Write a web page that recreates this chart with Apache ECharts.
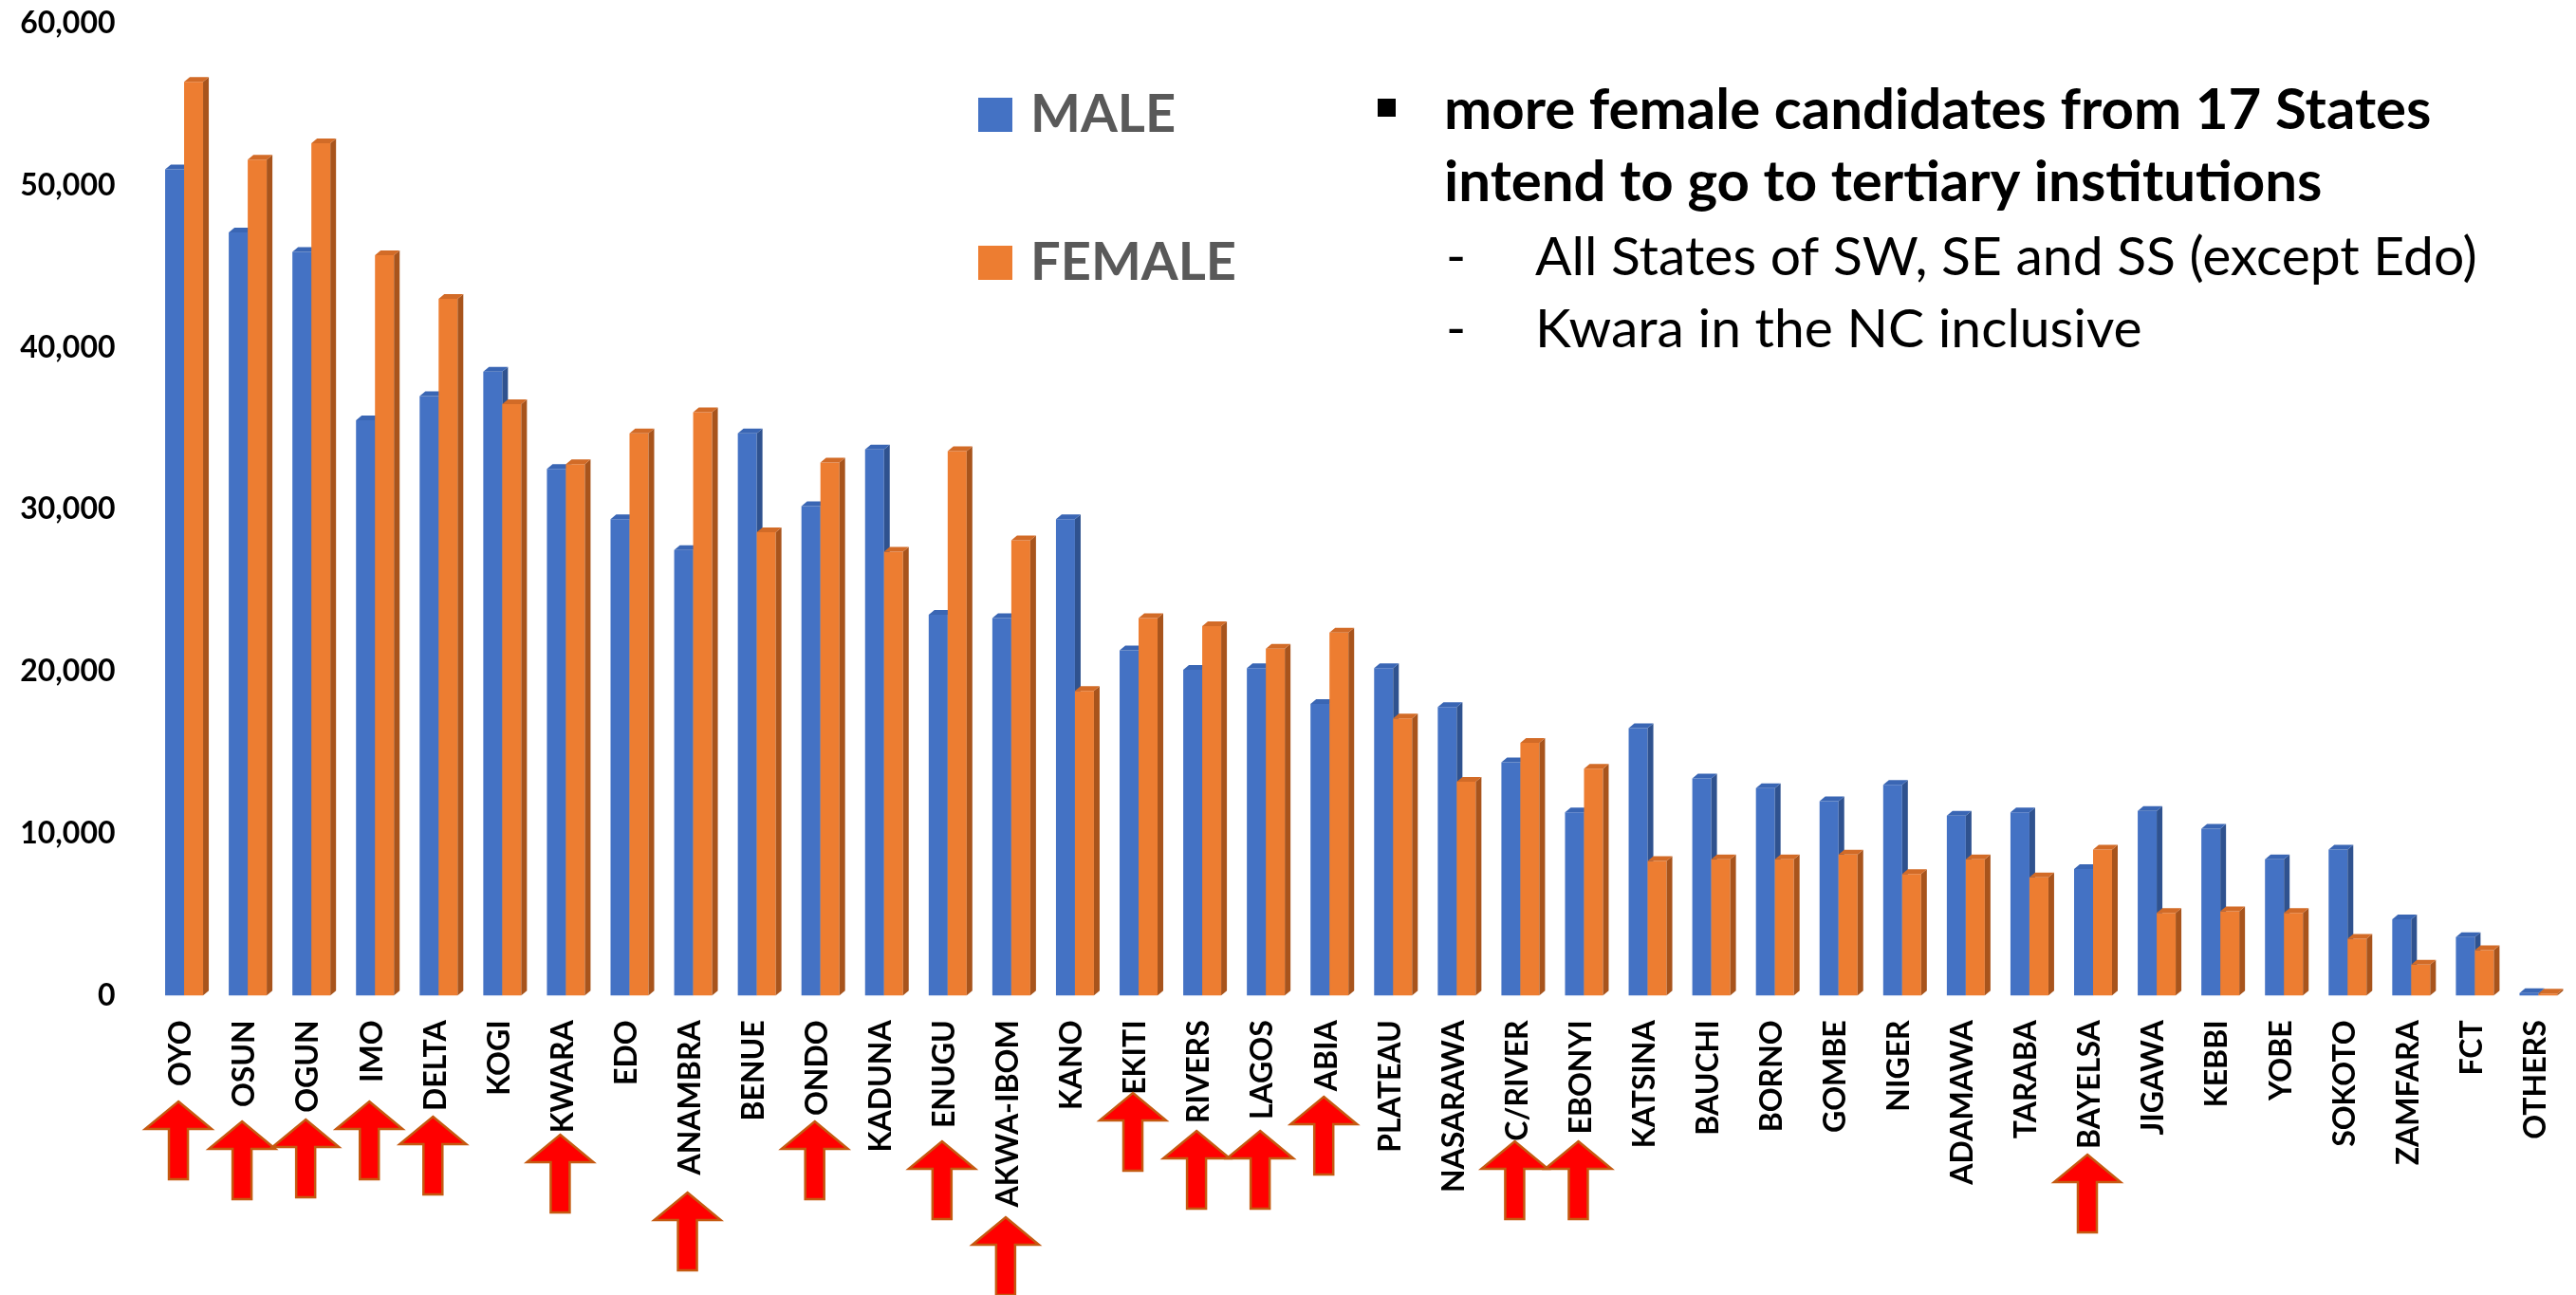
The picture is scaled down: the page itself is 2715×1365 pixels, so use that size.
<!DOCTYPE html>
<html>
<head>
<meta charset="utf-8">
<title>Candidates by State and Gender</title>
<script src="https://cdn.jsdelivr.net/npm/echarts@6/dist/echarts.min.js"></script>
<style>
  html, body { margin: 0; padding: 0; background: #fff; }
  #chart { width: 2715px; height: 1365px; }
</style>
</head>
<body>
<div id="chart"></div>
<script>
// data
var states = ['OYO', 'OSUN', 'OGUN', 'IMO', 'DELTA', 'KOGI', 'KWARA', 'EDO', 'ANAMBRA', 'BENUE',
  'ONDO', 'KADUNA', 'ENUGU', 'AKWA-IBOM', 'KANO', 'EKITI', 'RIVERS', 'LAGOS', 'ABIA', 'PLATEAU',
  'NASARAWA', 'C/RIVER', 'EBONYI', 'KATSINA', 'BAUCHI', 'BORNO', 'GOMBE', 'NIGER', 'ADAMAWA', 'TARABA',
  'BAYELSA', 'JIGAWA', 'KEBBI', 'YOBE', 'SOKOTO', 'ZAMFARA', 'FCT', 'OTHERS'];
var maleValues = [51000, 47100, 45900, 35500, 37000, 38500, 32500, 29400, 27500, 34700,
  30200, 33700, 23500, 23300, 29400, 21300, 20100, 20200, 18000, 20200,
  17800, 14400, 11300, 16500, 13400, 12800, 12000, 13000, 11100, 11300,
  7800, 11400, 10300, 8400, 9000, 4700, 3600, 150];
var femaleValues = [56400, 51600, 52600, 45700, 43000, 36500, 32800, 34700, 36000, 28600,
  32900, 27400, 33600, 28100, 18800, 23300, 22800, 21400, 22400, 17100,
  13200, 15600, 14000, 8300, 8400, 8400, 8700, 7500, 8400, 7300,
  9000, 5100, 5200, 5100, 3500, 1900, 2800, 120];
var yMax = 60000;
var yStep = 10000;

// states flagged with a red arrow (female > male, Edo left out on the slide)
var arrowStates = ['OYO', 'OSUN', 'OGUN', 'IMO', 'DELTA', 'KWARA', 'ANAMBRA', 'ONDO', 'ENUGU',
  'AKWA-IBOM', 'EKITI', 'RIVERS', 'LAGOS', 'ABIA', 'C/RIVER', 'EBONYI', 'BAYELSA'];
// where each arrow tip sits (page px), same order as arrowStates
var arrowTops = [1161, 1182, 1180, 1161, 1177, 1196, 1257, 1182, 1203,
  1283, 1152, 1192, 1192, 1156, 1203, 1203, 1217];

var headLine = ['more female candidates from 17 States', 'intend to go to tertiary institutions'];
var subLines = ['All States of SW, SE and SS (except Edo)', 'Kwara in the NC inclusive'];

var font = 'Lato';

function bar3d(offsetX, barW, colors) {
  return function (params, api) {
    var base = api.coord([api.value(0), 0]);
    var top = api.coord([api.value(0), api.value(1)]);
    var x0 = base[0] + offsetX;
    var x1 = x0 + barW;
    var yT = top[1];
    var yB = base[1];
    var dx = 6, dy = 5;
    return {
      type: 'group',
      children: [
        { type: 'rect', shape: { x: x0, y: yT, width: barW, height: yB - yT }, style: { fill: colors.front } },
        { type: 'polygon', shape: { points: [[x1, yT], [x1 + dx, yT - dy], [x1 + dx, yB - dy], [x1, yB]] }, style: { fill: colors.side } },
        { type: 'polygon', shape: { points: [[x0, yT], [x0 + dx, yT - dy], [x1 + dx, yT - dy], [x1, yT]] }, style: { fill: colors.top } }
      ]
    };
  };
}

var maleColors = { front: '#4472C4', side: '#2F528F', top: '#3A66B4' };
var femaleColors = { front: '#ED7D31', side: '#A8541C', top: '#D26B27' };

var chart = echarts.init(document.getElementById('chart'));

var option = {
  backgroundColor: '#fff',
  animation: false,
  grid: { left: 157.5, right: 9, top: 24.7, bottom: 315.7 },
  legend: {
    orient: 'vertical',
    left: 1031,
    top: 93,
    padding: 0,
    icon: 'rect',
    itemWidth: 36,
    itemHeight: 36,
    itemGap: 100,
    data: ['MALE', 'FEMALE'],
    textStyle: {
      fontFamily: font,
      fontWeight: 'bold',
      fontSize: 56,
      color: '#595959',
      padding: [0, 0, 0, 14]
    }
  },
  xAxis: {
    type: 'category',
    data: states,
    axisLine: { show: false },
    axisTick: { show: false },
    axisLabel: {
      interval: 0,
      rotate: 90,
      margin: 26,
      fontFamily: font,
      fontWeight: 'bold',
      fontSize: 32,
      color: '#000'
    }
  },
  yAxis: {
    type: 'value',
    min: 0,
    max: yMax,
    interval: yStep,
    axisLine: { show: false },
    axisTick: { show: false },
    splitLine: { show: false },
    axisLabel: {
      margin: 36,
      fontFamily: font,
      fontWeight: 'bold',
      fontSize: 32,
      color: '#000',
      formatter: function (v) { return v.toLocaleString('en-US'); }
    }
  },
  series: [
    {
      name: 'MALE',
      type: 'custom',
      itemStyle: { color: maleColors.front },
      renderItem: bar3d(-17, 20, maleColors),
      encode: { x: 0, y: 1 },
      data: states.map(function (s, i) { return [i, maleValues[i]]; })
    },
    {
      name: 'FEMALE',
      type: 'custom',
      itemStyle: { color: femaleColors.front },
      renderItem: bar3d(3, 20, femaleColors),
      encode: { x: 0, y: 1 },
      data: states.map(function (s, i) { return [i, femaleValues[i]]; })
    }
  ]
};

chart.setOption(option);

function arrowPoints(x, y) {
  return [[x, y], [x + 35, y + 29], [x + 10, y + 29], [x + 10, y + 82],
    [x - 10, y + 82], [x - 10, y + 29], [x - 35, y + 29]];
}

var graphics = [];
graphics.push({ type: 'rect', shape: { x: 1452, y: 104, width: 19, height: 19 }, style: { fill: '#000' } });
headLine.forEach(function (t, k) {
  graphics.push({
    type: 'text',
    style: { text: t, x: 1522, y: 136 + k * 76 - 19, verticalAlign: 'middle',
      font: 'bold 60px ' + font, fill: '#000' }
  });
});
subLines.forEach(function (t, k) {
  var y = 290 + k * 76 - 18;
  graphics.push({
    type: 'text',
    style: { text: '-', x: 1524, y: y, verticalAlign: 'middle', font: '57px ' + font, fill: '#000' }
  });
  graphics.push({
    type: 'text',
    style: { text: t, x: 1618, y: y, verticalAlign: 'middle', font: '57px ' + font, fill: '#000' }
  });
});
arrowStates.forEach(function (s, k) {
  var x = chart.convertToPixel({ xAxisIndex: 0 }, s) - 3;
  graphics.push({
    type: 'polygon',
    z: 10,
    shape: { points: arrowPoints(x, arrowTops[k]) },
    style: { fill: '#FF0000', stroke: '#C55A11', lineWidth: 2.5 }
  });
});

chart.setOption({ graphic: graphics });
</script>
</body>
</html>
